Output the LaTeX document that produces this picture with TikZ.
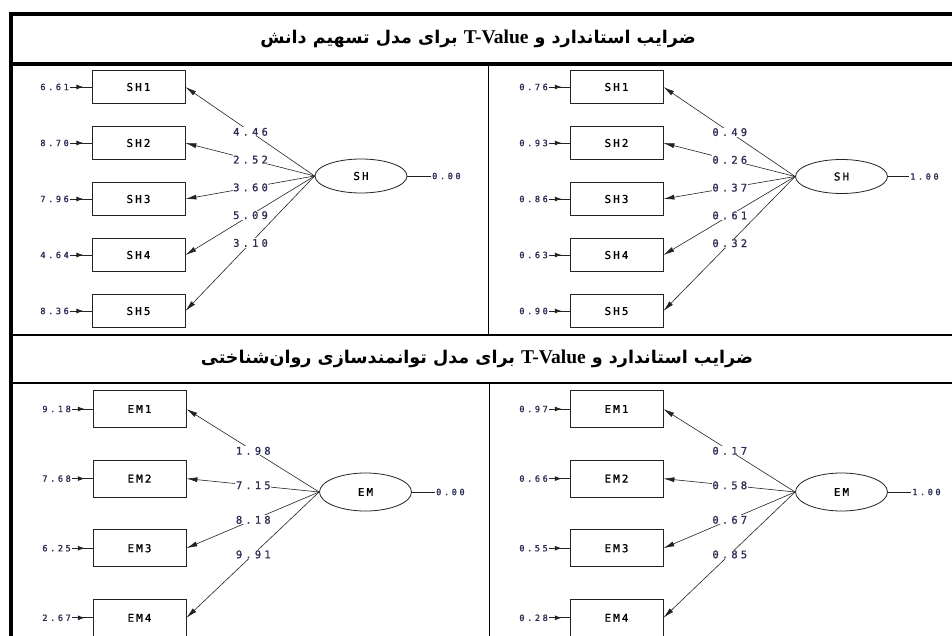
\documentclass[tikz,border=0pt]{standalone}
\usepackage{fontspec}
\setmainfont{Liberation Serif}
\newfontfamily\arabicfont[Script=Arabic,Scale=0.9]{DejaVu Sans}
\newfontfamily\lisrel[LetterSpace=30,FakeBold=1.2]{DejaVu Sans Mono}
\newfontfamily\lisrelbox[LetterSpace=20,FakeBold=1]{DejaVu Sans Mono}
\usetikzlibrary{arrows.meta,decorations.markings,shapes.geometric}
\TeXXeTstate=1
\definecolor{numcol}{RGB}{45,45,85}
\definecolor{linecol}{RGB}{35,35,35}
\tikzset{
  x=1pt, y=-1pt,
  obs/.style={draw=linecol, line width=0.8pt, minimum width=93pt, minimum height=#1, inner sep=0pt,
    font=\lisrelbox\fontsize{10.8}{12}\selectfont, text=black},
  lat/.style={ellipse, draw=linecol, line width=0.8pt, minimum width=92pt, minimum height=#1, inner sep=0pt,
    font=\lisrelbox\fontsize{10.8}{12}\selectfont, text=black},
  errtxt/.style={font=\lisrel\fontsize{8.6}{10}\selectfont, text=numcol, inner sep=1pt},
  lbl/.style={fill=white, inner sep=0.6pt, pos=0.496, font=\lisrel\fontsize{10.5}{12}\selectfont, text=numcol},
  load/.style={draw=linecol, line width=0.6pt, -{Latex[length=11pt,width=5pt]}},
  errarr/.style={draw=linecol, line width=0.8pt, postaction={decorate},
    decoration={markings, mark=at position 0.62 with {\arrow{Latex[length=7pt,width=5pt]}}}},
  plainline/.style={draw=linecol, line width=0.6pt},
  border/.style={draw=black, line width=#1},
  titletext/.style={font=\fontsize{19.5}{22}\selectfont, inner sep=0pt}
}
\begin{document}
\begin{tikzpicture}
\clip (0,0) rectangle (952,636);
\fill[white] (0,0) rectangle (952,636);

% frame
\draw[border=4pt] (9,14) -- (952,14);
\draw[border=4pt] (11,12) -- (11,636);
\draw[border=4pt] (11,64.5) -- (952,64.5);
\draw[border=1pt] (488.5,66) -- (488.5,334);
\draw[border=2.5pt] (11,335) -- (952,335);
\draw[border=2pt] (11,383) -- (952,383);
\draw[border=1pt] (489,384) -- (489,636);

% titles
\node[titletext] (t1) at (478,38.5) {\arabicfont\bfseries\beginR ضرایب استاندارد و {\rmfamily\bfseries\beginL T-Value\endL} برای مدل تسهیم دانش\endR};
\node[titletext] (t2) at (477,358.5) {\arabicfont\bfseries\beginR ضرایب استاندارد و {\rmfamily\bfseries\beginL T-Value\endL} برای مدل توانمندسازی روان‌شناختی\endR};

% top-left panel
\begin{scope}[name prefix=tl-]
  \node[lat=34pt] (L) at (361,176) {SH};
  \foreach \i/\e/\l in {1/6.61/4.46, 2/8.70/2.52, 3/7.96/3.60, 4/4.64/5.09, 5/8.36/3.10} {
    \node[obs=33.5pt] (o\i) at (138.5,{87+56*(\i-1)}) {SH\i};
    \node[errtxt, anchor=east] (e\i) at (70,{87+56*(\i-1)}) {\e};
    \draw[errarr] (e\i) -- (o\i);
    \draw[load] (L.west) -- node[lbl] {\l} (o\i.east);
  }
  \node[errtxt, anchor=west] (r) at (431,176) {0.00};
  \draw[plainline] (L.east) -- (r);
\end{scope}

% top-right panel
\begin{scope}[name prefix=tr-]
  \node[lat=34pt] (L) at (841.5,176.5) {SH};
  \foreach \i/\e/\l in {1/0.76/0.49, 2/0.93/0.26, 3/0.86/0.37, 4/0.63/0.61, 5/0.90/0.32} {
    \node[obs=33.5pt] (o\i) at (616.5,{87+56*(\i-1)}) {SH\i};
    \node[errtxt, anchor=east] (e\i) at (549,{87+56*(\i-1)}) {\e};
    \draw[errarr] (e\i) -- (o\i);
    \draw[load] (L.west) -- node[lbl] {\l} (o\i.east);
  }
  \node[errtxt, anchor=west] (r) at (909,176.5) {1.00};
  \draw[plainline] (L.east) -- (r);
\end{scope}

% bottom-left panel
\begin{scope}[name prefix=bl-]
  \node[lat=38pt] (L) at (365.5,492) {EM};
  \foreach \i/\e/\l in {1/9.18/1.98, 2/7.68/7.15, 3/6.25/8.18, 4/2.67/9.91} {
    \node[obs=37pt] (o\i) at (139.5,{409+69.6*(\i-1)}) {EM\i};
    \node[errtxt, anchor=east] (e\i) at (72,{409+69.6*(\i-1)}) {\e};
    \draw[errarr] (e\i) -- (o\i);
    \draw[load] (L.west) -- node[lbl] {\l} (o\i.east);
  }
  \node[errtxt, anchor=west] (r) at (435,492) {0.00};
  \draw[plainline] (L.east) -- (r);
\end{scope}

% bottom-right panel
\begin{scope}[name prefix=br-]
  \node[lat=38pt] (L) at (841.5,492) {EM};
  \foreach \i/\e/\l in {1/0.97/0.17, 2/0.66/0.58, 3/0.55/0.67, 4/0.28/0.85} {
    \node[obs=37pt] (o\i) at (616.5,{409+69.6*(\i-1)}) {EM\i};
    \node[errtxt, anchor=east] (e\i) at (549,{409+69.6*(\i-1)}) {\e};
    \draw[errarr] (e\i) -- (o\i);
    \draw[load] (L.west) -- node[lbl] {\l} (o\i.east);
  }
  \node[errtxt, anchor=west] (r) at (911,492) {1.00};
  \draw[plainline] (L.east) -- (r);
\end{scope}
\end{tikzpicture}
\end{document}
